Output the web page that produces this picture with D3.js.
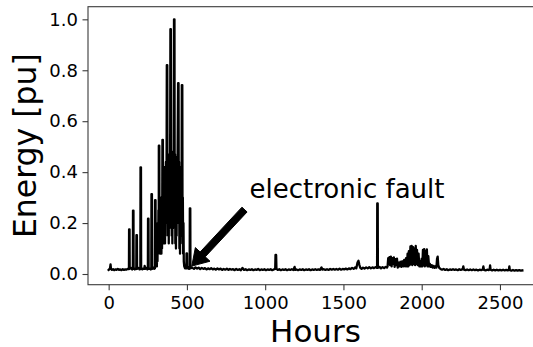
<!DOCTYPE html>
<html><head><meta charset="utf-8">
<script src="https://cdn.jsdelivr.net/npm/d3@7"></script>
<style>
html,body{margin:0;padding:0;background:#fff;}
svg{display:block;font-family:"DejaVu Sans",sans-serif;}
</style></head>
<body>
<svg id="chart" width="533" height="347"></svg>
<script>
// ---- data: [hour, energy pu] ----
const segStart = [[0,0.016],[5,0.019],[9,0.024],[12,0.038],[15,0.02],[21,0.016],[28,0.019],[35,0.015],[42,0.018],[50,0.016],[58,0.02],[66,0.016],[74,0.018],[82,0.015],[90,0.019],[98,0.016],[106,0.018],[114,0.017],[121,0.02],[128,0.019]];
const segBurst = [[129.5,0.02],[130.5,0.175],[133.5,0.175],[134.5,0.02],
 [144,0.024],[150,0.018],[154.5,0.02],[155.5,0.249],[158.5,0.249],[159.5,0.022],
 [167,0.018],[173,0.022],[176.5,0.02],[177.5,0.153],[180.5,0.153],[181.5,0.02],
 [190,0.024],[197,0.018],[202.5,0.02],[203.5,0.419],[206.5,0.419],[207.5,0.022],
 [215,0.018],[222,0.022],[228,0.02],[230,0.032],[233,0.02],[240,0.024],[247,0.018],
 [250.5,0.02],[251.5,0.217],[254.5,0.217],[255.5,0.02],
 [262,0.022],[269,0.018],[272.5,0.022],[273.5,0.314],[276.5,0.314],[277.5,0.02],
 [285,0.025],[291,0.02],[295.5,0.022],[296.5,0.29],[299.5,0.29],[300.5,0.03],
 [303,0.03],[306,0.1],[308,0.03],[310,0.14],[312,0.05],[314,0.2],[316,0.08],[318,0.25],[320,0.1],
 [320.5,0.504],[323.5,0.504],[325,0.12],[327,0.3],[329,0.08],[331,0.26],[333,0.1],[335,0.3],[337,0.08],[339,0.25],[341,0.1],[342.5,0.3],
 [343.5,0.527],[346.5,0.527],[348,0.15],[350,0.36],[352,0.12],[354,0.38],[356,0.15],[358,0.42],[360,0.12],[362,0.4],[364,0.15],[366,0.44],[368,0.2],[370,0.45],
 [371.5,0.82],[374.5,0.82],[376,0.2],[378,0.46],[380,0.15],[382,0.47],[384,0.12],[386,0.46],[388,0.18],[390,0.47],[392,0.25],
 [394.5,0.961],[397.5,0.961],[399,0.2],[401,0.48],[403,0.15],[405,0.47],[407,0.12],[409,0.46],[411,0.18],[413,0.48],[415,0.25],
 [417.5,1.0],[420.5,1.0],[422,0.2],[424,0.47],[426,0.12],[428,0.46],[430,0.1],[432,0.45],[434,0.15],[436,0.46],[438,0.2],[440,0.42],
 [443.5,0.749],[446.5,0.749],[448,0.2],[450,0.44],[452,0.1],[454,0.42],[456,0.08],[458,0.42],[460,0.12],[462,0.4],[464,0.15],[466,0.36],
 [467.5,0.742],[470.5,0.742],[472,0.15],[474,0.3],[476,0.08],[478,0.2],[480,0.05],[483,0.03],[488,0.022],[493,0.028],
 [496.5,0.022],[497.5,0.081],[500.5,0.081],[501.5,0.022],[508,0.028],[514,0.02],
 [517.5,0.022],[518.5,0.258],[521.5,0.258],[522.5,0.022],[528,0.026]];
const segMid = [[535,0.024],[545,0.02],[555,0.026],[565,0.021],[575,0.025],[585,0.019],[595,0.024],[605,0.02],[615,0.023],[625,0.018],[635,0.022],[645,0.019],[655,0.023],[665,0.018],[675,0.021],[685,0.017],[695,0.022],[705,0.018],[715,0.021],[725,0.016],[735,0.02],[745,0.017],[755,0.021],[765,0.016],[775,0.02],[785,0.017],[795,0.019],[805,0.015],[815,0.02],[825,0.016],[835,0.019],[845,0.015],[855,0.024],[865,0.016],[875,0.019],[885,0.015],[895,0.018],[905,0.016],[915,0.019],[925,0.015],[935,0.018],[945,0.016],[955,0.02],[965,0.015],[975,0.018],[985,0.016],[995,0.019],[1005,0.015],[1015,0.018],[1025,0.016],[1035,0.019],[1045,0.015],[1055,0.018],
 [1064,0.02],[1066,0.075],[1070,0.075],[1072,0.02],
 [1080,0.016],[1090,0.019],[1100,0.015],[1110,0.018],[1120,0.016],[1130,0.019],[1140,0.015],[1150,0.018],[1160,0.016],[1170,0.019],[1180,0.016],[1188,0.028],[1192,0.016],[1200,0.018],[1210,0.015],[1220,0.018],[1230,0.016],[1240,0.019],[1250,0.015],[1260,0.018],[1270,0.016],[1280,0.019],[1290,0.015],[1300,0.018],[1310,0.016],[1320,0.019],[1330,0.016],[1340,0.018],[1350,0.016],[1360,0.026],[1365,0.017],[1375,0.019],[1385,0.016],[1395,0.019],[1405,0.016],[1415,0.02],[1425,0.017],[1435,0.02],[1445,0.017],[1455,0.02],[1465,0.017],[1475,0.021],[1485,0.017],[1495,0.02],[1505,0.018],[1515,0.021],[1525,0.018],[1535,0.022],[1545,0.019],[1555,0.024],[1565,0.02],[1575,0.026],[1582,0.022],[1590,0.045],[1596,0.052],[1602,0.035],[1608,0.024],[1616,0.02],[1625,0.025],[1635,0.021],[1645,0.026],[1655,0.022],[1665,0.027],[1675,0.022],[1685,0.026],[1695,0.023],[1705,0.027],
 [1715,0.024],[1716,0.277],[1719,0.277],[1720,0.024],
 [1730,0.028],[1740,0.022],[1750,0.027],[1760,0.023],[1770,0.028],[1778,0.025]];
const segCluster = [[1782,0.03],[1786,0.062],[1790,0.04],[1794,0.066],[1798,0.035],[1803,0.068],[1808,0.03],[1812,0.062],[1817,0.04],[1822,0.065],[1827,0.028],[1832,0.058],[1837,0.035],[1842,0.06],[1847,0.025],[1852,0.045],[1858,0.03],[1864,0.048],[1870,0.028],[1876,0.05],[1882,0.03],[1888,0.055],[1894,0.03],[1900,0.062],[1905,0.03],[1910,0.08],[1914,0.03],[1918,0.09],[1923,0.035],[1928,0.108],[1932,0.04],[1936,0.11],[1940,0.035],[1945,0.105],[1949,0.04],[1954,0.1],[1958,0.035],[1962,0.11],[1966,0.04],[1970,0.095],[1975,0.035],[1980,0.08],[1985,0.03],[1990,0.05],[1995,0.03],[2000,0.06],[2004,0.03],[2008,0.095],[2012,0.035],[2016,0.098],[2020,0.03],[2025,0.09],[2029,0.035],[2033,0.097],[2037,0.03],[2042,0.07],[2047,0.03],[2052,0.04],[2058,0.028],[2064,0.035],[2070,0.025],[2076,0.032],[2082,0.024],[2088,0.03],[2094,0.025],[2098,0.06],[2102,0.068],[2106,0.035],[2112,0.024]];
const segTail = [[2120,0.02],[2130,0.017],[2140,0.02],[2150,0.016],[2160,0.019],[2170,0.015],[2180,0.018],[2190,0.016],[2200,0.019],[2210,0.016],[2220,0.018],[2230,0.015],[2240,0.019],[2250,0.016],[2262,0.019],[2266,0.03],[2270,0.017],[2280,0.015],[2290,0.018],[2300,0.015],[2310,0.018],[2320,0.015],[2330,0.018],[2340,0.015],[2350,0.017],[2360,0.014],[2370,0.017],[2380,0.015],[2390,0.018],[2394,0.03],[2398,0.016],[2408,0.014],[2418,0.017],[2428,0.015],[2434,0.018],[2437,0.034],[2440,0.017],[2450,0.014],[2460,0.017],[2470,0.014],[2480,0.017],[2490,0.014],[2500,0.016],[2510,0.014],[2520,0.017],[2530,0.014],[2540,0.016],[2550,0.014],[2557,0.017],[2560,0.03],[2563,0.015],[2573,0.013],[2583,0.016],[2593,0.013],[2603,0.015],[2613,0.013],[2623,0.015],[2633,0.013],[2643,0.014]];

const xTicks = [0, 500, 1000, 1500, 2000, 2500];
const yTicks = [0.0, 0.2, 0.4, 0.6, 0.8, 1.0];
const xLabel = "Hours";
const yLabel = "Energy [pu]";
const annText = "electronic fault";
const annTextPos = [900, 0.3];      // [hour, energy]
const annArrowTail = [868, 0.253];  // [hour, energy]
const annArrowTip = [531, 0.031];   // [hour, energy]

// ---- layout ----
const series = [].concat(segStart, segBurst, segMid, segCluster, segTail);
const L = 88, R = 543, T = 6.7, B = 284.7;
const x = d3.scaleLinear().domain([-132, 2775]).range([L, R]);
const y = d3.scaleLinear().domain([-0.042, 1.0496]).range([B, T]);

const svg = d3.select("#chart");

// data line
const line = d3.line().x(d => x(d[0])).y(d => y(d[1]));
svg.append("path").datum(series)
  .attr("d", line)
  .attr("fill", "none")
  .attr("stroke", "#000")
  .attr("stroke-width", 2.3)
  .attr("stroke-linejoin", "round")
  .attr("stroke-linecap", "square");

// spines
const spineColor = "#3a3a3a";
svg.append("rect").attr("x", L).attr("y", T).attr("width", R - L).attr("height", B - T)
  .attr("fill", "none").attr("stroke", spineColor).attr("stroke-width", 1.1);

// axes
const fs = "18px";
const xAxis = svg.append("g").attr("transform", `translate(0,${B})`)
  .call(d3.axisBottom(x).tickValues(xTicks).tickSize(5.5).tickPadding(5.8).tickFormat(d3.format("d")));
const yAxis = svg.append("g").attr("transform", `translate(${L},0)`)
  .call(d3.axisLeft(y).tickValues(yTicks).tickSize(5.5).tickPadding(4.6).tickFormat(d3.format(".1f")));
[xAxis, yAxis].forEach(g => {
  g.select(".domain").remove();
  g.selectAll(".tick line").attr("stroke", spineColor).attr("stroke-width", 1.1);
  g.selectAll(".tick text").attr("fill", "#000").style("font-size", fs).style("font-family", "DejaVu Sans");
});

// axis labels
svg.append("text").attr("x", (L + R) / 2).attr("y", 341.5)
  .attr("text-anchor", "middle").style("font-size", "31px").attr("fill", "#000").text(xLabel);
svg.append("text").attr("transform", `translate(35.5,${(T + B) / 2}) rotate(-90)`)
  .attr("text-anchor", "middle").style("font-size", "31.5px").attr("fill", "#000").text(yLabel);

// annotation
svg.append("text").attr("x", x(annTextPos[0])).attr("y", y(annTextPos[1]))
  .style("font-size", "26px").attr("fill", "#000").text(annText);

const tx = x(annArrowTail[0]), ty = y(annArrowTail[1]);
const hx = x(annArrowTip[0]), hy = y(annArrowTip[1]);
const len = Math.hypot(hx - tx, hy - ty);
const ux = (hx - tx) / len, uy = (hy - ty) / len;
const px = -uy, py = ux;
const shaftW = 7, headW = 20, headL = 16;
const bx = hx - ux * headL, by = hy - uy * headL;
const pts = [
  [tx + px * shaftW / 2, ty + py * shaftW / 2],
  [bx + px * shaftW / 2, by + py * shaftW / 2],
  [bx + px * headW / 2, by + py * headW / 2],
  [hx, hy],
  [bx - px * headW / 2, by - py * headW / 2],
  [bx - px * shaftW / 2, by - py * shaftW / 2],
  [tx - px * shaftW / 2, ty - py * shaftW / 2]
];
svg.append("path").attr("d", "M" + pts.map(p => p.join(",")).join("L") + "Z")
  .attr("fill", "#000").attr("stroke", "#000").attr("stroke-width", 1);
</script>
</body></html>
